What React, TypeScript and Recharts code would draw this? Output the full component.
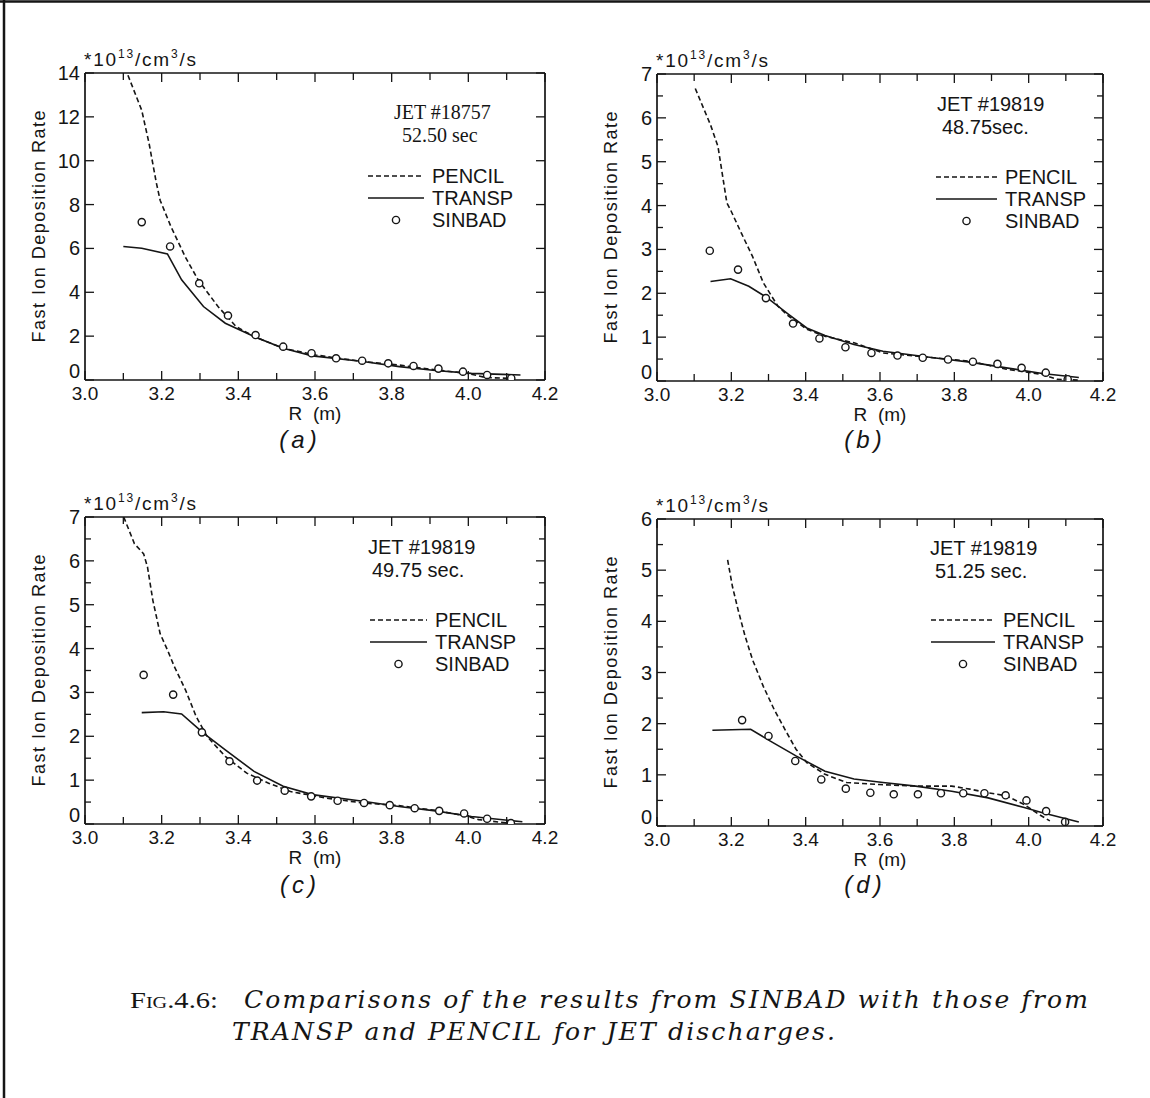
import React from "react";
import { ComposedChart, Line, Scatter, XAxis, YAxis, Legend } from "recharts";

const INK = "#151515";
const SANS = "'Liberation Sans', Arial, sans-serif";
const SERIF = "'Liberation Serif', 'Times New Roman', serif";

// R axis (m)
const rTicks = [3.0, 3.1, 3.2, 3.3, 3.4, 3.5, 3.6, 3.7, 3.8, 3.9, 4.0, 4.1, 4.2];
const rLabels = ["3.0", "3.2", "3.4", "3.6", "3.8", "4.0", "4.2"];

// y ticks per panel
const yTicksA = [0, 2, 4, 6, 8, 10, 12, 14];
const yTicks7 = [0, 0.5, 1, 1.5, 2, 2.5, 3, 3.5, 4, 4.5, 5, 5.5, 6, 6.5, 7];
const yTicks6 = [0, 0.5, 1, 1.5, 2, 2.5, 3, 3.5, 4, 4.5, 5, 5.5, 6];

// (a) JET #18757, 52.50 sec
const pencilA_r = [3.112, 3.148, 3.167, 3.186, 3.196, 3.224, 3.262, 3.295, 3.347, 3.394, 3.441, 3.517, 3.602, 3.725, 3.82, 3.914, 3.999, 4.046, 4.103, 4.12];
const pencilA_v = [13.9, 12.3, 10.8, 9.0, 8.2, 7.0, 5.6, 4.57, 3.35, 2.44, 1.98, 1.45, 1.14, 0.84, 0.68, 0.46, 0.3, 0.11, 0.08, 0.03];
const transpA_r = [3.1, 3.148, 3.215, 3.252, 3.309, 3.366, 3.441, 3.517, 3.593, 3.725, 3.82, 3.914, 4.008, 4.136];
const transpA_v = [6.09, 6.01, 5.75, 4.57, 3.35, 2.59, 1.98, 1.45, 1.1, 0.84, 0.61, 0.43, 0.3, 0.23];
const sinbadA_r = [3.148, 3.222, 3.298, 3.373, 3.445, 3.517, 3.591, 3.655, 3.723, 3.791, 3.857, 3.922, 3.986, 4.049, 4.112];
const sinbadA_v = [7.2, 6.09, 4.41, 2.94, 2.05, 1.52, 1.22, 0.99, 0.88, 0.76, 0.64, 0.52, 0.38, 0.23, 0.08];

// (b) JET #19819, 48.75 sec
const pencilB_r = [3.103, 3.144, 3.164, 3.188, 3.198, 3.227, 3.257, 3.286, 3.325, 3.354, 3.403, 3.452, 3.53, 3.608, 3.744, 3.842, 3.94, 4.037, 4.076, 4.135];
const pencilB_v = [6.67, 5.84, 5.35, 4.06, 3.9, 3.37, 2.84, 2.24, 1.71, 1.48, 1.18, 1.02, 0.87, 0.64, 0.53, 0.45, 0.27, 0.15, 0.04, 0.02];
const transpB_r = [3.144, 3.198, 3.247, 3.296, 3.354, 3.403, 3.452, 3.53, 3.608, 3.744, 3.842, 3.94, 4.037, 4.135];
const transpB_v = [2.27, 2.33, 2.16, 1.9, 1.52, 1.21, 1.04, 0.83, 0.68, 0.53, 0.43, 0.3, 0.17, 0.08];
const sinbadB_r = [3.142, 3.218, 3.293, 3.366, 3.437, 3.507, 3.577, 3.647, 3.715, 3.783, 3.85, 3.916, 3.981, 4.046, 4.105];
const sinbadB_v = [2.97, 2.54, 1.89, 1.31, 0.97, 0.77, 0.64, 0.58, 0.53, 0.49, 0.44, 0.39, 0.3, 0.19, 0.04];

// (c) JET #19819, 49.75 sec
const pencilC_r = [3.101, 3.129, 3.153, 3.163, 3.177, 3.196, 3.215, 3.233, 3.262, 3.29, 3.319, 3.366, 3.422, 3.479, 3.536, 3.63, 3.725, 3.819, 3.914, 3.99, 4.027, 4.103];
const pencilC_v = [7.0, 6.39, 6.16, 5.86, 5.1, 4.34, 3.97, 3.59, 3.06, 2.45, 1.99, 1.54, 1.16, 0.93, 0.74, 0.59, 0.48, 0.42, 0.31, 0.19, 0.1, 0.02];
const transpC_r = [3.148, 3.205, 3.252, 3.309, 3.366, 3.441, 3.517, 3.593, 3.725, 3.819, 3.914, 4.008, 4.141];
const transpC_v = [2.54, 2.56, 2.51, 2.07, 1.69, 1.2, 0.86, 0.67, 0.52, 0.4, 0.3, 0.17, 0.05];
const sinbadC_r = [3.153, 3.23, 3.305, 3.377, 3.449, 3.521, 3.59, 3.659, 3.728, 3.795, 3.86, 3.924, 3.989, 4.049, 4.111];
const sinbadC_v = [3.4, 2.95, 2.09, 1.43, 0.99, 0.76, 0.63, 0.53, 0.48, 0.43, 0.36, 0.3, 0.24, 0.12, 0.02];

// (d) JET #19819, 51.25 sec
const pencilD_r = [3.19, 3.203, 3.218, 3.237, 3.257, 3.286, 3.315, 3.344, 3.374, 3.403, 3.452, 3.51, 3.598, 3.696, 3.793, 3.842, 3.891, 3.94, 3.988, 4.027, 4.057];
const pencilD_v = [5.2, 4.68, 4.23, 3.71, 3.25, 2.73, 2.28, 1.89, 1.5, 1.24, 1.01, 0.85, 0.81, 0.78, 0.78, 0.72, 0.65, 0.59, 0.42, 0.23, 0.1];
const transpD_r = [3.149, 3.252, 3.305, 3.374, 3.452, 3.53, 3.608, 3.696, 3.793, 3.891, 3.988, 4.037, 4.135];
const transpD_v = [1.87, 1.89, 1.66, 1.37, 1.07, 0.92, 0.85, 0.78, 0.68, 0.55, 0.36, 0.26, 0.08];
const sinbadD_r = [3.229, 3.3, 3.372, 3.442, 3.508, 3.574, 3.637, 3.702, 3.764, 3.824, 3.881, 3.938, 3.994, 4.047, 4.098];
const sinbadD_v = [2.07, 1.76, 1.27, 0.91, 0.73, 0.65, 0.62, 0.62, 0.64, 0.64, 0.64, 0.6, 0.5, 0.29, 0.08];

const zip = (r: number[], v: number[]) => r.map((x, i) => ({ r: x, v: v[i] }));

const TM = 8; // tick margin used to locate the axis line inside custom ticks

type Plot = { x0: number; y0: number; x1: number; y1: number };
type PanelDef = {
  id: string;
  plot: Plot;
  yMax: number;
  yTicks: number[];
  pencil: { r: number; v: number }[];
  transp: { r: number; v: number }[];
  sinbad: { r: number; v: number }[];
  jet: string;
  time: string;
  jetX: number;
  jetY: number;
  timeX: number;
  jetFont: string;
  legendX: number;
  legendY: number;
  legendTextX: number;
};

const panels: PanelDef[] = [
  {
    id: "a", plot: { x0: 85, y0: 73, x1: 545, y1: 380 }, yMax: 14, yTicks: yTicksA,
    pencil: zip(pencilA_r, pencilA_v), transp: zip(transpA_r, transpA_v), sinbad: zip(sinbadA_r, sinbadA_v),
    jet: "JET #18757", time: "52.50 sec", jetX: 394, jetY: 112, timeX: 402, jetFont: SERIF,
    legendX: 368, legendY: 165, legendTextX: 432
  },
  {
    id: "b", plot: { x0: 657, y0: 74, x1: 1103, y1: 381 }, yMax: 7, yTicks: yTicks7,
    pencil: zip(pencilB_r, pencilB_v), transp: zip(transpB_r, transpB_v), sinbad: zip(sinbadB_r, sinbadB_v),
    jet: "JET #19819", time: "48.75sec.", jetX: 937, jetY: 104, timeX: 942, jetFont: SANS,
    legendX: 936, legendY: 166, legendTextX: 1005
  },
  {
    id: "c", plot: { x0: 85, y0: 517, x1: 545, y1: 824 }, yMax: 7, yTicks: yTicks7,
    pencil: zip(pencilC_r, pencilC_v), transp: zip(transpC_r, transpC_v), sinbad: zip(sinbadC_r, sinbadC_v),
    jet: "JET #19819", time: "49.75 sec.", jetX: 368, jetY: 547, timeX: 372, jetFont: SANS,
    legendX: 370, legendY: 609, legendTextX: 435
  },
  {
    id: "d", plot: { x0: 657, y0: 519, x1: 1103, y1: 826 }, yMax: 6, yTicks: yTicks6,
    pencil: zip(pencilD_r, pencilD_v), transp: zip(transpD_r, transpD_v), sinbad: zip(sinbadD_r, sinbadD_v),
    jet: "JET #19819", time: "51.25 sec.", jetX: 930, jetY: 548, timeX: 935, jetFont: SANS,
    legendX: 931, legendY: 609, legendTextX: 1003
  }
];

const fmtR = (v: number) => v.toFixed(1);

function BottomTick(props: any) {
  const { x, y, payload } = props;
  const label = fmtR(payload.value);
  const major = rLabels.includes(label);
  const ay = y - TM;
  return (
    <g>
      <line x1={x} x2={x} y1={ay} y2={ay - (major ? 9 : 7)} stroke={INK} strokeWidth={1.3} />
      {major && (
        <text x={x} y={ay + 20} textAnchor="middle" fontFamily={SANS} fontSize={19} fill={INK}>
          {label}
        </text>
      )}
    </g>
  );
}

function TopTick(props: any) {
  const { x, y, payload } = props;
  const major = rLabels.includes(fmtR(payload.value));
  return <line x1={x} x2={x} y1={y} y2={y + (major ? 9 : 7)} stroke={INK} strokeWidth={1.3} />;
}

function LeftTick(props: any) {
  const { x, y, payload } = props;
  const v = payload.value as number;
  const major = Number.isInteger(v);
  const ax = x + TM;
  // the zero label sits just above the 3.0 label, as in the print
  const ty = v === 0 ? y - 2 : y + 7;
  return (
    <g>
      <line x1={ax} x2={ax + (major ? 9 : 6)} y1={y} y2={y} stroke={INK} strokeWidth={1.3} />
      {major && (
        <text x={ax - 5} y={ty} textAnchor="end" fontFamily={SANS} fontSize={20} fill={INK}>
          {v}
        </text>
      )}
    </g>
  );
}

function RightTick(props: any) {
  const { x, y, payload } = props;
  const major = Number.isInteger(payload.value);
  return <line x1={x} x2={x - (major ? 9 : 6)} y1={y} y2={y} stroke={INK} strokeWidth={1.3} />;
}

function Circle(props: any) {
  const { cx, cy } = props;
  if (cx == null || cy == null) return null;
  return <circle cx={cx} cy={cy} r={3.6} fill="#fff" stroke={INK} strokeWidth={1.4} />;
}

function LegendBox({ textDx }: { textDx: number }) {
  const row = (sample: React.ReactNode, text: string) => (
    <div style={{ position: "relative", height: 22 }}>
      <svg width={textDx} height={22} style={{ position: "absolute", left: 0, top: 0 }}>
        {sample}
      </svg>
      <span
        style={{
          position: "absolute", left: textDx, top: 0, lineHeight: "22px",
          fontFamily: SANS, fontSize: 20, color: INK, whiteSpace: "nowrap"
        }}
      >
        {text}
      </span>
    </div>
  );
  const w = textDx - 8;
  return (
    <div style={{ width: textDx + 90 }}>
      {row(<line x1={0} x2={w} y1={11} y2={11} stroke={INK} strokeWidth={1.6} strokeDasharray="5 3" />, "PENCIL")}
      {row(<line x1={0} x2={w} y1={11} y2={11} stroke={INK} strokeWidth={1.6} />, "TRANSP")}
      {row(<circle cx={w / 2} cy={11} r={3.6} fill="#fff" stroke={INK} strokeWidth={1.4} />, "SINBAD")}
    </div>
  );
}

const PAD_L = 85;
const PAD_R = 35;
const PAD_T = 40;
const PAD_B = 40;

function Panel({ p }: { p: PanelDef }) {
  const { plot } = p;
  const left = plot.x0 - PAD_L;
  const top = plot.y0 - PAD_T;
  const width = plot.x1 - plot.x0 + PAD_L + PAD_R;
  const height = plot.y1 - plot.y0 + PAD_T + PAD_B;
  const axisLine = { stroke: INK, strokeWidth: 1.7 };
  return (
    <div style={{ position: "absolute", left, top, width, height }}>
      <ComposedChart width={width} height={height} margin={{ top: PAD_T - 1, right: PAD_R - 1, left: PAD_L - 40, bottom: PAD_B - 30 }}>
        <XAxis xAxisId="b" dataKey="r" type="number" domain={[3, 4.2]} ticks={rTicks} interval={0}
          tickSize={0} tickMargin={TM} tickLine={false} axisLine={axisLine} height={30}
          tick={(t: any) => <BottomTick {...t} />} allowDataOverflow />
        <XAxis xAxisId="t" orientation="top" dataKey="r" type="number" domain={[3, 4.2]} ticks={rTicks} interval={0}
          tickSize={0} tickMargin={0} tickLine={false} axisLine={axisLine} height={1}
          tick={(t: any) => <TopTick {...t} />} allowDataOverflow />
        <YAxis yAxisId="l" dataKey="v" type="number" domain={[0, p.yMax]} ticks={p.yTicks} interval={0}
          tickSize={0} tickMargin={TM} tickLine={false} axisLine={axisLine} width={40}
          tick={(t: any) => <LeftTick {...t} />} allowDataOverflow />
        <YAxis yAxisId="r" orientation="right" dataKey="v" type="number" domain={[0, p.yMax]} ticks={p.yTicks} interval={0}
          tickSize={0} tickMargin={0} tickLine={false} axisLine={axisLine} width={1}
          tick={(t: any) => <RightTick {...t} />} allowDataOverflow />
        <Legend layout="vertical" align="center" verticalAlign="middle"
          wrapperStyle={{ left: p.legendX - left, top: p.legendY - top, width: 200 }}
          content={() => <LegendBox textDx={p.legendTextX - p.legendX} />} />
        <Line xAxisId="b" yAxisId="l" data={p.pencil} dataKey="v" name="PENCIL" type="linear" stroke={INK}
          strokeWidth={1.6} strokeDasharray="5 3" dot={false} activeDot={false} isAnimationActive={false} />
        <Line xAxisId="b" yAxisId="l" data={p.transp} dataKey="v" name="TRANSP" type="linear" stroke={INK}
          strokeWidth={1.6} dot={false} activeDot={false} isAnimationActive={false} />
        <Scatter xAxisId="b" yAxisId="l" data={p.sinbad} dataKey="v" name="SINBAD" shape={(s: any) => <Circle {...s} />}
          isAnimationActive={false} />
      </ComposedChart>
    </div>
  );
}

function UnitLabel({ x, y }: { x: number; y: number }) {
  return (
    <text x={x} y={y} fontFamily={SANS} fontSize={19} fill={INK} textLength={112} lengthAdjust="spacing">
      *10
      <tspan dy={-8} fontSize={12}>13</tspan>
      <tspan dy={8}>/cm</tspan>
      <tspan dy={-8} fontSize={12}>3</tspan>
      <tspan dy={8}>/s</tspan>
    </text>
  );
}

const CAPTION_FONT = "'DejaVu Serif', serif";

function Overlay() {
  return (
    <svg width={1150} height={1098} style={{ position: "absolute", left: 0, top: 0, pointerEvents: "none" }}>
      <line x1={4} x2={4} y1={0} y2={1098} stroke={INK} strokeWidth={2.5} />
      <line x1={0} x2={1150} y1={1.5} y2={1.5} stroke={INK} strokeWidth={2.5} />
      {panels.map((p) => {
        const cy = (p.plot.y0 + p.plot.y1) / 2;
        const cx = (p.plot.x0 + p.plot.x1) / 2;
        const yLabelX = p.plot.x0 - 40;
        return (
          <g key={p.id}>
            <UnitLabel x={p.plot.x0 - 1} y={p.plot.y0 - 7} />
            <text x={yLabelX} y={cy} transform={`rotate(-90 ${yLabelX} ${cy})`} textAnchor="middle"
              fontFamily={SANS} fontSize={18} fill={INK} textLength={232} lengthAdjust="spacing">
              Fast Ion Deposition Rate
            </text>
            <text x={cx} y={p.plot.y1 + 40} textAnchor="middle" fontFamily={SANS} fontSize={19} fill={INK} xmlSpace="preserve">
              {"R  (m)"}
            </text>
            <text x={cx - 15} y={p.id === "a" || p.id === "b" ? 448 : 893} textAnchor="middle" fontFamily={SANS}
              fontStyle="italic" fontSize={24} letterSpacing={4} fill={INK}>
              {`(${p.id})`}
            </text>
            <text x={p.jetX} y={p.jetY + 7} fontFamily={p.jetFont} fontSize={20} fill={INK}>{p.jet}</text>
            <text x={p.timeX} y={p.jetY + 30} fontFamily={p.jetFont} fontSize={20} fill={INK}>{p.time}</text>
          </g>
        );
      })}
      <text x={130} y={1008} fontFamily={SERIF} fontSize={24} fill={INK} style={{ fontVariant: "small-caps" }}
        textLength={88} lengthAdjust="spacingAndGlyphs">
        Fig.4.6:
      </text>
      <text x={244} y={1008} fontFamily={CAPTION_FONT} fontStyle="italic" fontSize={25} fill={INK}
        textLength={844} lengthAdjust="spacing">
        Comparisons of the results from SINBAD with those from
      </text>
      <text x={232} y={1040} fontFamily={CAPTION_FONT} fontStyle="italic" fontSize={25} fill={INK}
        textLength={603} lengthAdjust="spacing">
        TRANSP and PENCIL for JET discharges.
      </text>
    </svg>
  );
}

export default function App() {
  return (
    <div style={{ position: "absolute", left: 0, top: 0, width: 1150, height: 1098, background: "#fff", overflow: "hidden" }}>
      {panels.map((p) => (
        <Panel key={p.id} p={p} />
      ))}
      <Overlay />
    </div>
  );
}
